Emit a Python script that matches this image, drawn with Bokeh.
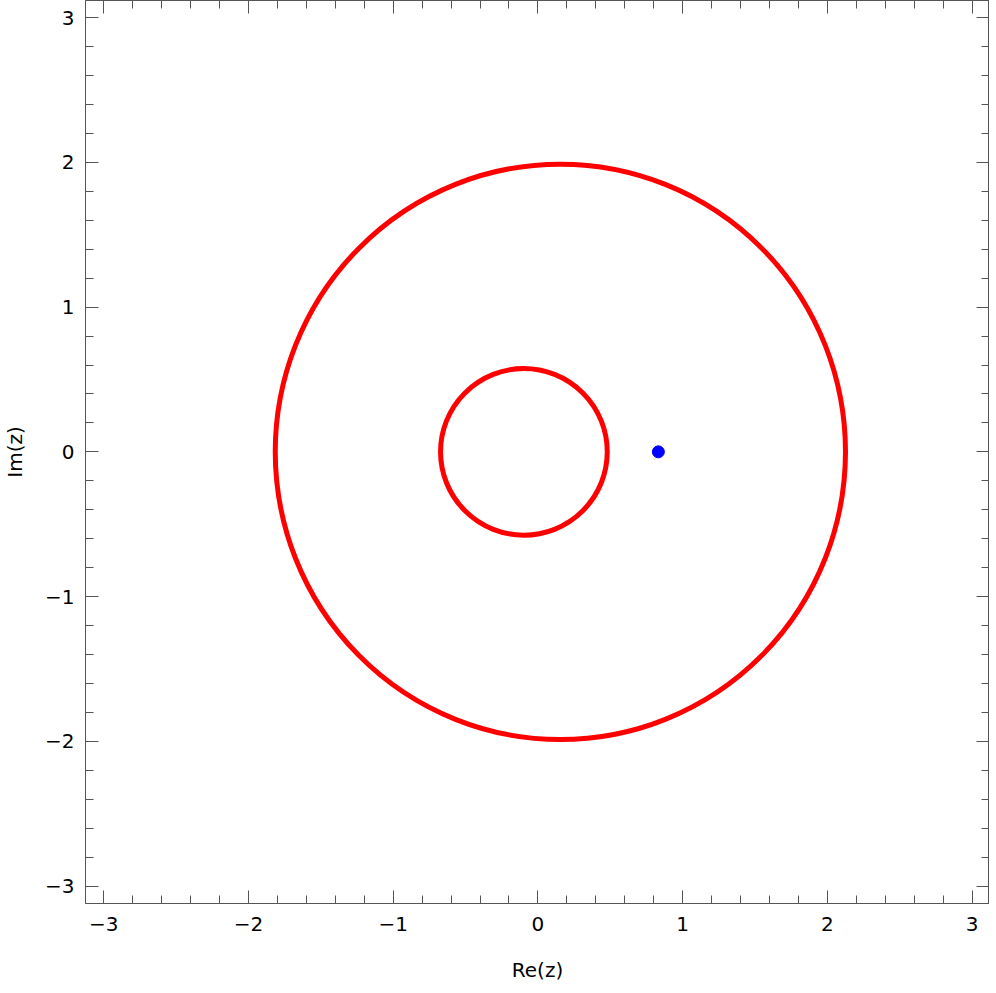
from bokeh.plotting import figure
from bokeh.models import LinearAxis, Range1d, SingleIntervalTicker, ColumnDataSource, CustomJSTickFormatter
from bokeh.embed import file_html
from bokeh.resources import INLINE

# Level curves (centre, width, height in data units)
curve_cx = [0.155, -0.097]
curve_cy = [0.0, 0.0]
curve_w = [3.94, 1.152]
curve_h = [3.975, 1.152]

# Marked point
point_x = [0.832]
point_y = [0.0]

FONT = "DejaVu Sans"
AXC = "#555555"

p = figure(frame_width=904, frame_height=903, output_backend="svg", toolbar_location=None,
           x_range=Range1d(-3.126, 3.12), y_range=Range1d(-3.12, 3.118),
           min_border_left=0, min_border_right=0, min_border_top=0, min_border_bottom=0)
p.grid.visible = False
p.outline_line_color = AXC
p.background_fill_color = "white"
p.border_fill_color = "white"

def style(ax, labels=True):
    ax.ticker = SingleIntervalTicker(interval=1, num_minor_ticks=5)
    ax.axis_line_color = AXC
    ax.major_tick_line_color = AXC
    ax.minor_tick_line_color = AXC
    ax.major_tick_in = 13
    ax.major_tick_out = 0
    ax.minor_tick_in = 8
    ax.minor_tick_out = 0
    ax.major_label_text_font = FONT
    ax.axis_label_text_font = FONT
    ax.axis_label_text_font_style = "normal"
    ax.axis_label_text_font_size = "20px"
    ax.axis_label_text_color = "black"
    ax.major_label_text_color = "black"
    ax.major_label_text_font_size = "20px"
    if not labels:
        ax.formatter = CustomJSTickFormatter(code="return ''")
        ax.major_label_standoff = 0
        ax.axis_label_standoff = 0

style(p.xaxis[0])
style(p.yaxis[0])
p.xaxis[0].axis_label = "Re(z)"
p.yaxis[0].axis_label = "Im(z)"
p.xaxis[0].major_label_standoff = 13
p.yaxis[0].major_label_standoff = 11
p.xaxis[0].axis_label_standoff = 24
p.yaxis[0].axis_label_standoff = 15

top = LinearAxis()
right = LinearAxis()
style(top, labels=False)
style(right, labels=False)
p.add_layout(top, "above")
p.add_layout(right, "right")

src = ColumnDataSource(dict(x=curve_cx, y=curve_cy, w=curve_w, h=curve_h))
p.ellipse(x="x", y="y", width="w", height="h", source=src,
          fill_color=None, line_color="#ff0000", line_width=5)

p.scatter(point_x, point_y, size=12, fill_color="#0000ff", line_color="#0000ff")

open("out.html", "w").write(file_html(p, INLINE))
